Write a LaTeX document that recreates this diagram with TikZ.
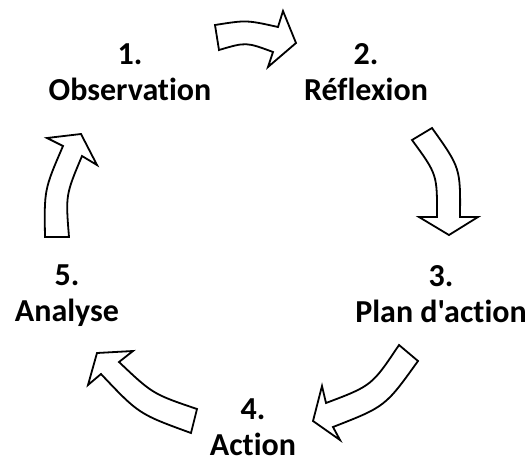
\documentclass[tikz,border=0pt]{standalone}
\usepackage{fontspec}
\newfontfamily\lblfont{Carlito}[Ligatures=NoCommon]
\begin{document}
\begin{tikzpicture}[x=1pt,y=-1pt,
  blockarrow/.style={draw=black, line width=1.8pt, fill=white, line join=miter},
  lbl/.style={font=\lblfont\bfseries\fontsize{32}{36}\selectfont, align=center, inner sep=0pt, anchor=base}]
\useasboundingbox (0,0) rectangle (528,461);
% labels (anchor=base is the baseline of the last line)
\node[lbl] (l1) at (130,100) {1.\\Observation};
\node[lbl] (l2) at (366,100) {2.\\Réflexion};
\node[lbl] (l3) at (441,322) {3.\\Plan d'action};
\node[lbl] (l4) at (253,455) {4.\\Action};
\node[lbl] (l5) at (67,321) {5.\\Analyse};
% arrow 1 (top, right)
\draw[blockarrow] (215,25) .. controls (246.5,20) .. (278,27) -- (283,11) -- (296,43) -- (268,67) -- (273,52)
  .. controls (246,42) .. (219,50) -- cycle;
% arrow 2 (right, down)
\draw[blockarrow] (432,128) .. controls (460.5,168) .. (460,217) -- (478,217) -- (449,235) -- (419,217) -- (437,217)
  .. controls (437.2,174.4) .. (412,140) -- cycle;
% arrow 3 (bottom right, down-left)
\draw[blockarrow] (399,345) .. controls (371.8,385.7) .. (326,403) -- (322,386) -- (313,421) -- (340,440) -- (333,427)
  .. controls (385.3,406.6) .. (418,361) -- cycle;
% arrow 4 (bottom left, up-left)
\draw[blockarrow] (97,353) -- (133,351) -- (119,362) .. controls (152.8,394) .. (197,409) -- (191,433)
  .. controls (138.8,414) .. (101,374) -- (88,385) -- cycle;
% arrow 5 (left, up)
\draw[blockarrow] (81,134) -- (97,165) -- (82,156) .. controls (65.6,195) .. (69,237) -- (45,237)
  .. controls (44.2,189.6) .. (63,146) -- (47,138) -- cycle;
\end{tikzpicture}
\end{document}
